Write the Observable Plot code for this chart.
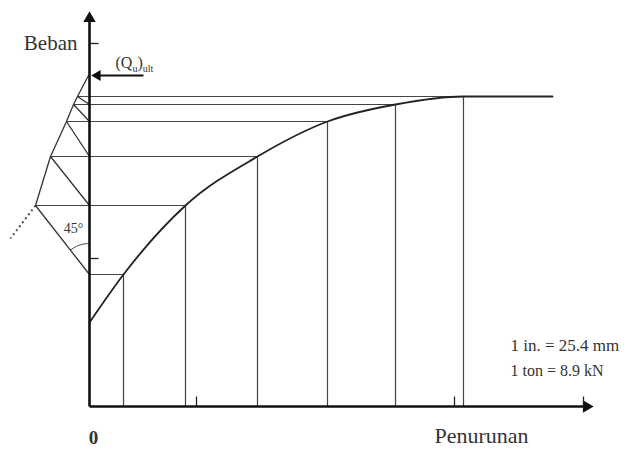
<!DOCTYPE html>
<html><head><meta charset="utf-8">
<script src="https://cdn.jsdelivr.net/npm/d3@7"></script>
<script src="https://cdn.jsdelivr.net/npm/@observablehq/plot@0.6"></script>
<style>body{margin:0;background:#fff;} svg{display:block;}</style>
</head><body><div id="chart"></div>
<script>
// curve points (settlement, load) in drawing units
const settlement = [0, 3.4, 9.6, 16.8, 23.8, 30.6, 37.4, 46.3];
const load = [8.4, 13.2, 20.1, 25.0, 28.5, 30.2, 31.0, 31.0];
// left end of construction for curve points 1..6
const leftEnd = [0, -5.4, -3.9, -2.3, -1.6, -1.2];
const quX = -0.1, quLoad = 33.1;
const dottedEnd = {x: -7.9, y: 16.8};
const yTicks = [14.8, 36.3];
const xTicks = [10.7, 36.5, 49.4];
const xMax = 50.5, yMax = 39.6;
const labels = {yAxis: "Beban", xAxis: "Penurunan", origin: "0", angle: "45°", qu: "(Qu)ult",
  note1: "1 in. = 25.4 mm", note2: "1 ton = 8.9 kN"};

const curve = settlement.map((s, i) => ({x: s, y: load[i]}));
const horiz = leftEnd.map((l, k) => ({x1: l, x2: settlement[k + 1], y: load[k + 1]}));
const vert = leftEnd.map((l, k) => ({x: settlement[k + 1], y2: load[k + 1]}));
const diag = leftEnd.slice(1).map((l, k) => ({x1: 0, y1: load[k + 1], x2: l, y2: load[k + 2]}));
const boundary = leftEnd.slice(1).map((l, k) => ({x: l, y: load[k + 2]})).concat([{x: quX, y: quLoad}]);
// 45° arc around the lowest construction vertex
const v = {x: 0, y: load[1]};
const aEnd = Math.atan2(load[2] - load[1], leftEnd[1]);
const arc = d3.range(0, 21).map(i => {
  const a = Math.PI / 2 + (aEnd - Math.PI / 2) * i / 20;
  return {x: v.x + 3.1 * Math.cos(a), y: v.y + 3.1 * Math.sin(a)};
});

const serif = "Liberation Serif, Times New Roman, serif";
const grey = "#444";
const svg = Plot.plot({
  width: 626, height: 449,
  marginTop: 0, marginRight: 0, marginBottom: 0, marginLeft: 0,
  x: {domain: [-8.9, 53.7], axis: null},
  y: {domain: [-4.3, 40.6], axis: null},
  style: {background: "transparent", overflow: "visible"},
  marks: [
    Plot.link(horiz, {x1: "x1", x2: "x2", y1: "y", y2: "y", stroke: grey, strokeWidth: 1.2}),
    Plot.link(vert, {x1: "x", x2: "x", y1: 0, y2: "y2", stroke: grey, strokeWidth: 1.2}),
    Plot.link(diag, {x1: "x1", y1: "y1", x2: "x2", y2: "y2", stroke: "#333", strokeWidth: 1.3}),
    Plot.line(boundary, {x: "x", y: "y", stroke: "#333", strokeWidth: 1.3}),
    Plot.link([{x1: leftEnd[1], y1: load[2], x2: dottedEnd.x, y2: dottedEnd.y}],
      {x1: "x1", y1: "y1", x2: "x2", y2: "y2", stroke: "#555", strokeWidth: 2, strokeDasharray: "2,3"}),
    Plot.line(arc, {x: "x", y: "y", stroke: "#333", strokeWidth: 1}),
    Plot.line(curve, {x: "x", y: "y", stroke: "#222", strokeWidth: 1.8, curve: "monotone-x"}),
    // axes
    Plot.link([{x1: 0, y1: 0, x2: 0, y2: yMax - 1}], {x1: "x1", y1: "y1", x2: "x2", y2: "y2", stroke: "#111", strokeWidth: 2.6}),
    Plot.link([{x1: 0, y1: 0, x2: xMax - 1, y2: 0}], {x1: "x1", y1: "y1", x2: "x2", y2: "y2", stroke: "#111", strokeWidth: 2.6}),
    Plot.dot([{x: 0, y: yMax - 0.8}], {x: "x", y: "y", symbol: "triangle", r: 4.6, fill: "#111", stroke: "none"}),
    Plot.dot([{x: xMax - 0.8, y: 0}], {x: "x", y: "y", symbol: "triangle", r: 4.6, fill: "#111", stroke: "none", rotate: 90}),
    Plot.link(yTicks, {x1: 0, x2: 0.9, y1: d => d, y2: d => d, stroke: "#222", strokeWidth: 1.3}),
    Plot.link(xTicks, {x1: d => d, x2: d => d, y1: 0, y2: 1.0, stroke: "#222", strokeWidth: 1.3}),
    // Qu arrow
    Plot.link([{x1: 5.4, x2: 0.9, y: quLoad}], {x1: "x1", x2: "x2", y1: "y", y2: "y", stroke: "#111", strokeWidth: 2}),
    Plot.dot([{x: 0.8, y: quLoad}], {x: "x", y: "y", symbol: "triangle", r: 4, fill: "#111", stroke: "none", rotate: -90}),
    // texts
    Plot.text([labels.yAxis], {x: -1.2, y: 36.3, text: d => d, fontFamily: serif, fontSize: 21, textAnchor: "end", fill: "#333"}),
    Plot.text([labels.qu], {x: 2.6, y: 34.4, text: d => d, fontFamily: serif, fontSize: 16, textAnchor: "start", fill: "#333"}),
    Plot.text([labels.angle], {x: -1.6, y: 17.8, text: d => d, fontFamily: serif, fontSize: 14, fill: "#333"}),
    Plot.text([labels.origin], {x: 0.4, y: -3.1, text: d => d, fontFamily: serif, fontSize: 19, fill: "#333", fontWeight: "bold"}),
    Plot.text([labels.xAxis], {x: 39.2, y: -2.9, text: d => d, fontFamily: serif, fontSize: 22, fill: "#333"}),
    Plot.text([labels.note1], {x: 42.1, y: 6.1, text: d => d, fontFamily: serif, fontSize: 17, textAnchor: "start", fill: "#333"}),
    Plot.text([labels.note2], {x: 42.1, y: 3.6, text: d => d, fontFamily: serif, fontSize: 16, textAnchor: "start", fill: "#333"})
  ]
});
d3.select(svg).selectAll("text").filter(function() { return this.textContent === labels.qu; })
  .each(function() {
    const t = d3.select(this);
    const tgt = t.select("tspan").empty() ? t : t.select("tspan");
    tgt.text(null);
    tgt.append("tspan").text("(Q");
    tgt.append("tspan").attr("font-size", 10).attr("dy", 4).text("u");
    tgt.append("tspan").attr("dy", -4).text(")");
    tgt.append("tspan").attr("font-size", 10).attr("dy", 4).text("ult");
  });
document.getElementById("chart").appendChild(svg);
</script></body></html>
